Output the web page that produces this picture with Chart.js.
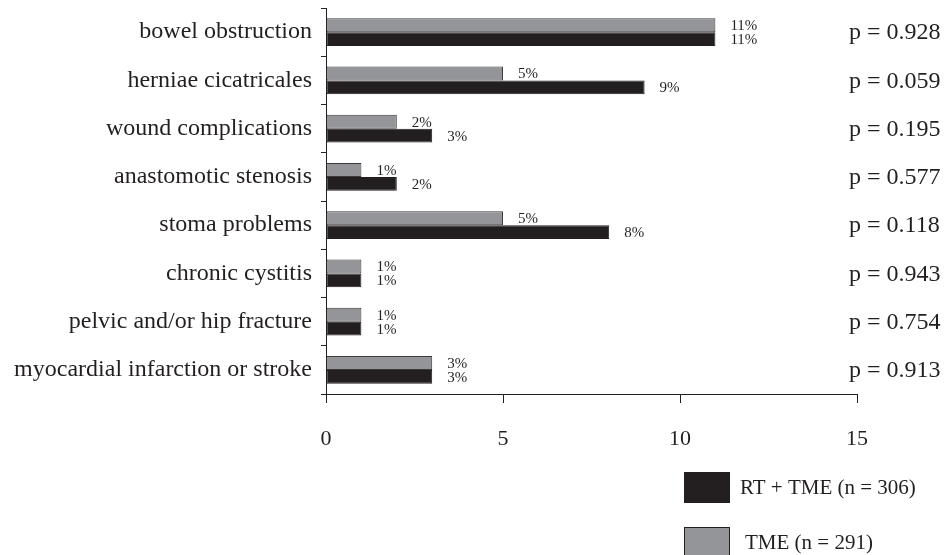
<!DOCTYPE html>
<html>
<head>
<meta charset="utf-8">
<script src="https://cdn.jsdelivr.net/npm/chart.js@4/dist/chart.umd.min.js"></script>
<style>
  html, body { margin: 0; padding: 0; background: #ffffff; }
  #wrap { width: 944px; height: 555px; position: relative; }
</style>
</head>
<body>
<div id="wrap"><canvas id="c" width="944" height="555"></canvas></div>
<script>
// Late complications per treatment arm (% of patients)
const categories = [
  'bowel obstruction',
  'herniae cicatricales',
  'wound complications',
  'anastomotic stenosis',
  'stoma problems',
  'chronic cystitis',
  'pelvic and/or hip fracture',
  'myocardial infarction or stroke'
];
const tmeValues = [11, 5, 2, 1, 5, 1, 1, 3];
const rtTmeValues = [11, 9, 3, 2, 8, 1, 1, 3];
const pValues = ['p = 0.928', 'p = 0.059', 'p = 0.195', 'p = 0.577', 'p = 0.118', 'p = 0.943', 'p = 0.754', 'p = 0.913'];
const seriesNames = ['RT + TME (n = 306)', 'TME (n = 291)'];

const INK = '#231f20';
const GREY = '#939598';
const SERIF = "'Liberation Serif', 'Times New Roman', serif";

// Percent labels just past the end of each bar
const valueLabels = {
  id: 'valueLabels',
  afterDatasetsDraw(chart) {
    const ctx = chart.ctx;
    ctx.save();
    ctx.font = '15px ' + SERIF;
    ctx.fillStyle = INK;
    ctx.textAlign = 'left';
    ctx.textBaseline = 'middle';
    chart.data.datasets.forEach((ds, di) => {
      chart.getDatasetMeta(di).data.forEach((bar, i) => {
        ctx.fillText(ds.data[i] + '%', bar.x + 15, bar.y + 1);
      });
    });
    ctx.restore();
  }
};

// p-values in a column on the right, one per category
const pColumn = {
  id: 'pColumn',
  afterDraw(chart) {
    const ctx = chart.ctx;
    const y = chart.scales.y;
    ctx.save();
    ctx.font = '24px ' + SERIF;
    ctx.fillStyle = INK;
    ctx.textAlign = 'left';
    ctx.textBaseline = 'middle';
    pValues.forEach((p, i) => {
      ctx.fillText(p, 849, y.getPixelForValue(i) + 1);
    });
    ctx.restore();
  }
};

// Legend boxes stacked under the x axis
const boxLegend = {
  id: 'boxLegend',
  afterDraw(chart) {
    const ctx = chart.ctx;
    const rows = [
      { fill: INK, text: seriesNames[0], top: 472, tx: 740 },
      { fill: GREY, text: seriesNames[1], top: 527, tx: 745 }
    ];
    ctx.save();
    ctx.font = '21px ' + SERIF;
    ctx.textAlign = 'left';
    ctx.textBaseline = 'middle';
    rows.forEach(r => {
      ctx.fillStyle = r.fill;
      ctx.fillRect(684, r.top, 46, 31);
      ctx.strokeStyle = INK;
      ctx.lineWidth = 1;
      ctx.strokeRect(684.5, r.top + 0.5, 45, 30);
      ctx.fillStyle = INK;
      ctx.fillText(r.text, r.tx, r.top + 16);
    });
    ctx.restore();
  }
};

new Chart(document.getElementById('c'), {
  type: 'bar',
  data: {
    labels: categories,
    datasets: [
      {
        label: seriesNames[1],
        data: tmeValues,
        backgroundColor: GREY,
        borderColor: '#3a3a3c',
        borderWidth: 1,
        borderSkipped: false,
        categoryPercentage: 0.58,
        barPercentage: 1.0
      },
      {
        label: seriesNames[0],
        data: rtTmeValues,
        backgroundColor: INK,
        borderColor: INK,
        borderWidth: 1,
        borderSkipped: false,
        categoryPercentage: 0.58,
        barPercentage: 1.0
      }
    ]
  },
  options: {
    indexAxis: 'y',
    responsive: false,
    animation: false,
    layout: { padding: { top: 8, right: 87, left: 0, bottom: 0 } },
    plugins: {
      legend: { display: false },
      tooltip: { enabled: false }
    },
    scales: {
      x: {
        min: 0,
        max: 15,
        ticks: {
          stepSize: 5,
          color: INK,
          font: { family: SERIF, size: 22 },
          padding: 23
        },
        grid: {
          drawOnChartArea: false,
          drawTicks: true,
          tickLength: 9,
          color: INK
        },
        border: { display: true, color: INK, width: 1 },
        afterFit(scale) { scale.height = 161; }
      },
      y: {
        ticks: {
          color: INK,
          font: { family: SERIF, size: 24 },
          padding: 9,
          autoSkip: false
        },
        grid: {
          offset: true,
          drawOnChartArea: false,
          drawTicks: true,
          tickLength: 5,
          color: INK
        },
        border: { display: true, color: INK, width: 1 },
        afterFit(scale) {
          scale.width = 326;
          scale.paddingTop = 0;
          scale.paddingBottom = 0;
        }
      }
    }
  },
  plugins: [valueLabels, pColumn, boxLegend]
});
</script>
</body>
</html>
